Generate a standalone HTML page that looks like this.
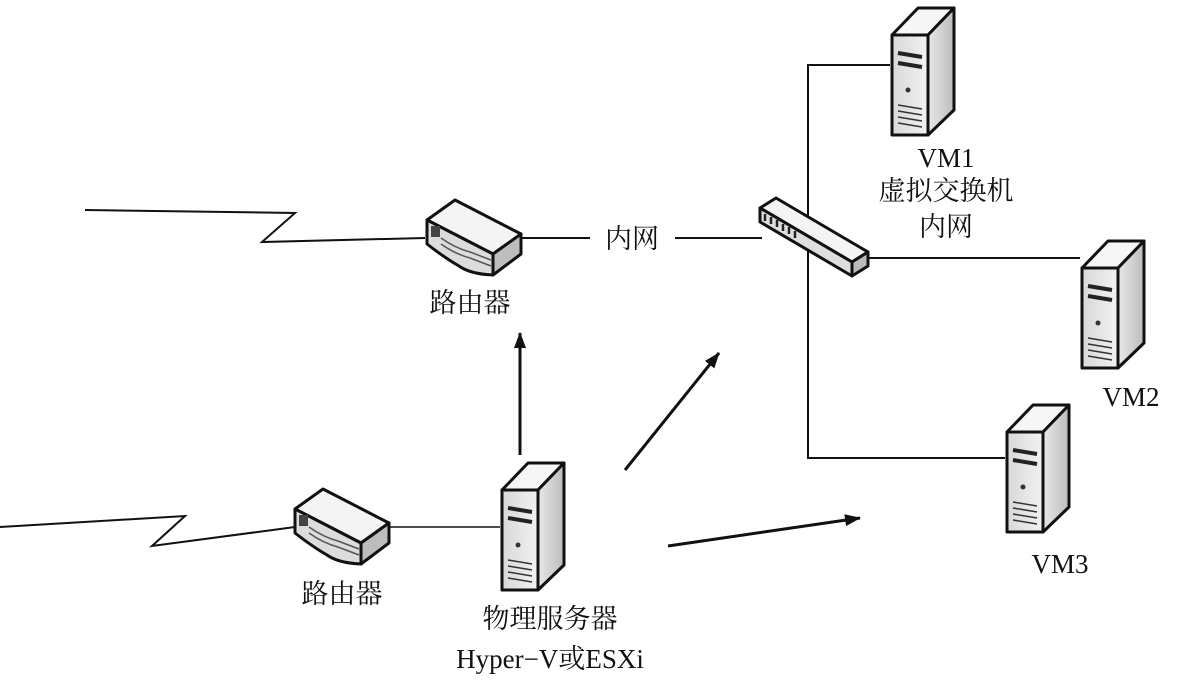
<!DOCTYPE html>
<html><head><meta charset="utf-8"><style>
html,body{margin:0;padding:0;background:#fff}
text{font-family:"Liberation Serif","Noto Serif CJK SC",serif;font-size:27px;fill:#111}
</style></head><body>
<svg width="1179" height="678" viewBox="0 0 1179 678" xmlns="http://www.w3.org/2000/svg">
<defs>
<linearGradient id="g1" x1="0" x2="1"><stop offset="0" stop-color="#e8e8e8"/><stop offset="1" stop-color="#bcbcbc"/></linearGradient>
<linearGradient id="g2" x1="0" x2="1"><stop offset="0" stop-color="#d8d8d8"/><stop offset="1" stop-color="#f2f2f2"/></linearGradient>
<marker id="ah" markerWidth="16" markerHeight="12" refX="15" refY="6" orient="auto" markerUnits="userSpaceOnUse"><path d="M0,0 L16,6 L0,12 Z" fill="#111"/></marker>
<symbol id="srv" viewBox="0 0 66 132" overflow="visible">
<path d="M2,30 L28,3 L64,3 L38,30 Z" fill="#f6f6f6" stroke="#111" stroke-width="3" stroke-linejoin="round"/>
<path d="M38,30 L64,3 L64,105 L38,130 Z" fill="url(#g1)" stroke="#111" stroke-width="3" stroke-linejoin="round"/>
<path d="M2,30 L38,30 L38,130 L2,130 Z" fill="url(#g2)" stroke="#111" stroke-width="3" stroke-linejoin="round"/>
<path d="M8,48 L32,52 M8,58 L32,62" stroke="#222" stroke-width="4"/>
<circle cx="18" cy="85" r="2.5" fill="#333"/>
<path d="M8,100 L32,104 M8,106 L32,110 M8,112 L32,116 M8,118 L32,122" stroke="#333" stroke-width="1.6"/>
</symbol>
<symbol id="rtr" viewBox="0 0 98 78" overflow="visible">
<path d="M2,22 L30,2 L96,36 L68,56 Z" fill="#f4f4f4" stroke="#111" stroke-width="3" stroke-linejoin="round"/>
<path d="M68,56 L96,36 L96,56 L68,77 Z" fill="#bdbdbd" stroke="#111" stroke-width="3" stroke-linejoin="round"/>
<path d="M2,22 L68,56 L68,77 Q45,76 34,68 Q20,60 2,46 Z" fill="#dcdcdc" stroke="#111" stroke-width="3" stroke-linejoin="round"/>
<rect x="6" y="28" width="9" height="11" fill="#444"/>
<path d="M16,40 Q30,50 45,54 L66,62 M16,46 Q30,56 45,60 L66,68" stroke="#555" stroke-width="1.5" fill="none"/>
</symbol>
</defs>

<g stroke="#111" stroke-width="2" fill="none">
<polyline points="85,210 295,213 262,242 425,238"/>
<polyline points="0,527 185,516 152,546 295,527"/>
<line x1="522" y1="238" x2="590" y2="238"/>
<line x1="675" y1="238" x2="762" y2="238"/>
<line x1="390" y1="527" x2="500" y2="527" stroke-width="1.5"/>
<polyline points="890,65 808,65 808,458 1005,458"/>
<line x1="862" y1="258" x2="1080" y2="258"/>
</g>
<g stroke="#111" stroke-width="3">
<line x1="520" y1="455" x2="520" y2="333" marker-end="url(#ah)"/>
<line x1="625" y1="470" x2="719" y2="353" marker-end="url(#ah)"/>
<line x1="668" y1="546" x2="860" y2="518" marker-end="url(#ah)"/>
</g>

<!-- switch -->
<g stroke="#111" stroke-width="3" stroke-linejoin="round">
<path d="M760,208 L776,198 L868,252 L852,262 Z" fill="#f4f4f4"/>
<path d="M852,262 L868,252 L868,266 L852,276 Z" fill="#bbb"/>
<path d="M760,208 L852,262 L852,276 L760,222 Z" fill="#dedede"/>
</g>
<path d="M765,214 v7 M771,217 v7 M777,220 v7 M783,224 v7 M789,227 v7 M795,231 v7" stroke="#222" stroke-width="2.5"/>

<use href="#rtr" x="425" y="198" width="98" height="78"/>
<use href="#rtr" x="293" y="487" width="98" height="78"/>
<use href="#srv" x="890" y="5" width="66" height="132"/>
<use href="#srv" x="1080" y="238" width="66" height="132"/>
<use href="#srv" x="1005" y="402" width="66" height="132"/>
<use href="#srv" x="500" y="460" width="66" height="132"/>

<g text-anchor="middle">
<text x="632" y="248">内网</text>
<text x="470" y="312">路由器</text>
<text x="342" y="603">路由器</text>
<text x="946" y="167">VM1</text>
<text x="946" y="200">虚拟交换机</text>
<text x="946" y="236">内网</text>
<text x="1131" y="406">VM2</text>
<text x="1060" y="573">VM3</text>
<text x="550" y="628">物理服务器</text>
<text x="550" y="668">Hyper−V或ESXi</text>
</g>
</svg>
</body></html>
